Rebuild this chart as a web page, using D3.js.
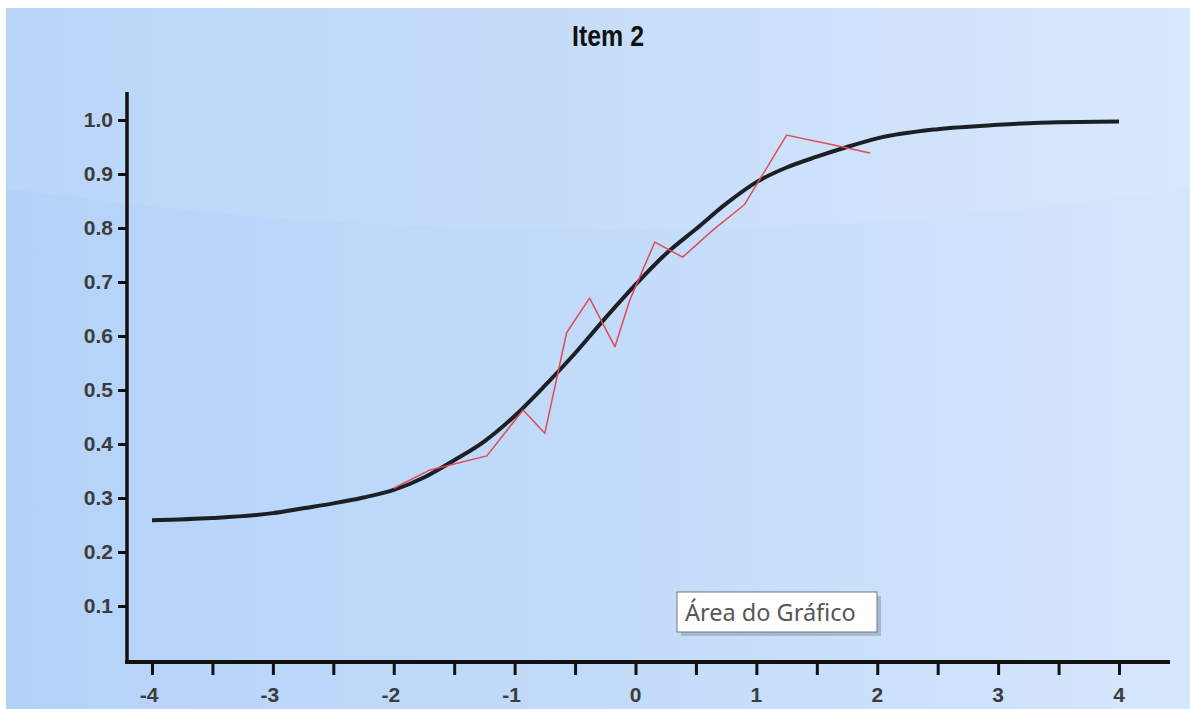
<!DOCTYPE html>
<html>
<head>
<meta charset="utf-8">
<script src="https://cdn.jsdelivr.net/npm/d3@7"></script>
<style>
  html, body { margin: 0; padding: 0; background: #fff; overflow: hidden; }
  svg { display: block; }
</style>
</head>
<body>
<div id="chartArea"></div>
<script>
// item characteristic curve
const curveTheta = [-4, -3.5, -3, -2.75, -2.5, -2.25, -2, -1.75, -1.5, -1.25, -1, -0.75, -0.5, -0.25, 0,
  0.25, 0.5, 0.75, 1, 1.25, 1.5, 1.75, 2, 2.5, 3, 3.5, 4];
const curveProb = [0.259, 0.263, 0.272, 0.281, 0.290, 0.301, 0.315, 0.338, 0.370, 0.405, 0.452, 0.508, 0.568, 0.633, 0.695,
  0.752, 0.798, 0.845, 0.885, 0.912, 0.932, 0.950, 0.966, 0.983, 0.991, 0.996, 0.997];

// observed proportions (red)
const obsTheta = [-2.0, -1.7, -1.23, -0.93, -0.75, -0.57, -0.38, -0.17, -0.05, 0.16, 0.39, 0.64, 0.9, 1.25, 1.63, 1.94];
const obsProb = [0.318, 0.352, 0.378, 0.463, 0.420, 0.606, 0.670, 0.580, 0.665, 0.774, 0.746, 0.796, 0.843, 0.972, 0.954, 0.939];

const yTicks = [0.1, 0.2, 0.3, 0.4, 0.5, 0.6, 0.7, 0.8, 0.9, 1.0];
const xTicks = [-4, -3.5, -3, -2.5, -2, -1.5, -1, -0.5, 0, 0.5, 1, 1.5, 2, 2.5, 3, 3.5, 4];
const xLabels = [-4, -3, -2, -1, 0, 1, 2, 3, 4];

const W = 1190, H = 709;
const axisGrey = "#3c3c3c";

const svg = d3.select("#chartArea").append("svg")
  .attr("width", W)
  .attr("height", H);

const defs = svg.append("defs");
const bg = defs.append("linearGradient").attr("id", "bg")
  .attr("x1", "0%").attr("x2", "100%").attr("y1", "0%").attr("y2", "0%");
bg.append("stop").attr("offset", "0%").attr("stop-color", "#b4d2f8");
bg.append("stop").attr("offset", "55%").attr("stop-color", "#c4dcfa");
bg.append("stop").attr("offset", "100%").attr("stop-color", "#d6e6fc");

// background + white frame at top/left
svg.append("rect").attr("width", W).attr("height", H).attr("fill", "#fff");
svg.append("rect").attr("x", 6).attr("y", 8).attr("width", W - 6).attr("height", H - 8).attr("fill", "url(#bg)");
// glossy upper band
svg.append("ellipse")
  .attr("cx", 600).attr("cy", -700)
  .attr("rx", 2000).attr("ry", 930)
  .attr("fill", "#fff").attr("opacity", 0.08);

const x = d3.scaleLinear().domain([-4, 4]).range([152, 1119]);
const y = d3.scaleLinear().domain([0, 1]).range([660, 120]);

// title
svg.append("text")
  .attr("transform", "translate(608,46) scale(0.86,1)")
  .attr("text-anchor", "middle")
  .attr("font-family", "Liberation Sans, Arial, sans-serif")
  .attr("font-weight", "bold")
  .attr("font-size", "29px")
  .attr("fill", "#111")
  .text("Item 2");

// y axis
const yAxis = svg.append("g")
  .attr("transform", "translate(127,0)")
  .call(d3.axisLeft(y).tickValues(yTicks).tickSize(9).tickPadding(5).tickFormat(d3.format(".1f")));
yAxis.select(".domain").remove();
yAxis.selectAll(".tick line").attr("stroke", "#111").attr("stroke-width", 3);
yAxis.selectAll(".tick text")
  .attr("font-family", "Liberation Sans, Arial, sans-serif")
  .attr("font-weight", "bold")
  .attr("font-size", "21px")
  .attr("fill", axisGrey);

svg.append("line")
  .attr("x1", 127).attr("x2", 127)
  .attr("y1", 92).attr("y2", 663)
  .attr("stroke", "#111").attr("stroke-width", 3.5);

// x axis
const xAxis = svg.append("g")
  .attr("transform", "translate(0,662)")
  .call(d3.axisBottom(x).tickValues(xTicks).tickSize(13).tickFormat(""));
xAxis.select(".domain").remove();
xAxis.selectAll(".tick line").attr("stroke", "#111").attr("stroke-width", 3);

svg.append("line")
  .attr("x1", 125).attr("x2", 1170)
  .attr("y1", 662).attr("y2", 662)
  .attr("stroke", "#111").attr("stroke-width", 4);

svg.append("g").selectAll("text")
  .data(xLabels)
  .join("text")
  .attr("x", d => x(d) - (d < 0 ? 3 : 0))
  .attr("y", 702)
  .attr("text-anchor", "middle")
  .attr("font-family", "Liberation Sans, Arial, sans-serif")
  .attr("font-weight", "bold")
  .attr("font-size", "21px")
  .attr("fill", axisGrey)
  .text(d => d);

// model curve
const line = d3.line().x(d => x(d[0])).y(d => y(d[1]));

svg.append("path")
  .datum(curveTheta.map((t, i) => [t, curveProb[i]]))
  .attr("d", line.curve(d3.curveMonotoneX))
  .attr("fill", "none")
  .attr("stroke", "#1c1f24")
  .attr("stroke-width", 4);

// observed line
svg.append("path")
  .datum(obsTheta.map((t, i) => [t, obsProb[i]]))
  .attr("d", d3.line().x(d => x(d[0])).y(d => y(d[1])))
  .attr("fill", "none")
  .attr("stroke", "#e04a55")
  .attr("stroke-width", 1.5)
  .attr("stroke-linejoin", "round");

// tooltip
const tip = svg.append("g").attr("transform", "translate(677,592)");
tip.append("rect")
  .attr("x", 4).attr("y", 4).attr("width", 200).attr("height", 40)
  .attr("fill", "#8a9bb0").attr("opacity", 0.55);
tip.append("rect")
  .attr("width", 200).attr("height", 40)
  .attr("fill", "#fff")
  .attr("stroke", "#767676").attr("stroke-width", 1);
tip.append("text")
  .attr("x", 8).attr("y", 29)
  .attr("font-family", "Noto Sans, Open Sans, sans-serif")
  .attr("font-size", "23.5px")
  .attr("fill", "#575757")
  .text("Área do Gráfico");
</script>
</body>
</html>
